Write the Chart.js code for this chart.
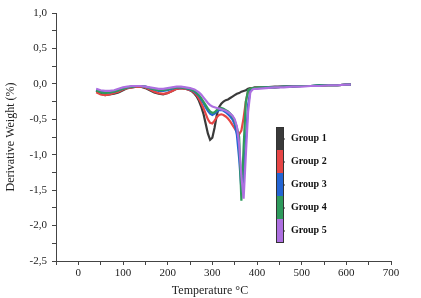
<!DOCTYPE html>
<html>
<head>
<meta charset="utf-8">
<script src="https://cdn.jsdelivr.net/npm/chart.js@4"></script>
<style>
  html, body { margin: 0; padding: 0; background: #fff; }
  #wrap { width: 421px; height: 298px; }
</style>
</head>
<body>
<div id="wrap"><canvas id="myChart" width="421" height="298"></canvas></div>
<script>
// data block
const temps = [40,50,60,70,80,90,100,110,120,130,140,150,160,170,180,190,200,210,220,230,240,
  250,255,260,265,270,275,280,285,290,295,300,305,310,315,320,325,330,335,340,345,350,355,360,365,370,375,380,385,390,395,400,
  420,440,460,480,500,520,540,560,580,600,610];

const groupNames = ["Group 1", "Group 2", "Group 3", "Group 4", "Group 5"];

const group1 = [-0.10,-0.14,-0.16,-0.15,-0.14,-0.12,-0.09,-0.06,-0.05,-0.04,-0.04,-0.06,-0.09,-0.12,-0.14,-0.15,-0.13,-0.10,-0.07,-0.06,-0.07,
  -0.09,-0.11,-0.14,-0.18,-0.24,-0.32,-0.42,-0.56,-0.70,-0.79,-0.76,-0.62,-0.44,-0.33,-0.28,-0.25,-0.23,-0.22,-0.20,-0.18,-0.16,-0.14,-0.13,-0.11,-0.10,-0.09,-0.07,-0.06,-0.06,-0.05,-0.05,
  -0.05,-0.04,-0.04,-0.03,-0.03,-0.03,-0.02,-0.02,-0.02,-0.01,-0.01];
const group2 = [-0.12,-0.15,-0.16,-0.15,-0.13,-0.11,-0.08,-0.06,-0.05,-0.04,-0.04,-0.05,-0.08,-0.11,-0.13,-0.14,-0.13,-0.10,-0.07,-0.06,-0.07,
  -0.09,-0.10,-0.13,-0.16,-0.21,-0.27,-0.34,-0.42,-0.50,-0.55,-0.56,-0.52,-0.47,-0.44,-0.43,-0.44,-0.46,-0.49,-0.53,-0.58,-0.63,-0.68,-0.71,-0.66,-0.48,-0.25,-0.10,-0.07,-0.06,-0.06,-0.05,
  -0.05,-0.05,-0.04,-0.04,-0.03,-0.03,-0.03,-0.02,-0.02,-0.01,-0.01];
const group3 = [-0.08,-0.11,-0.12,-0.12,-0.11,-0.09,-0.07,-0.05,-0.04,-0.03,-0.03,-0.04,-0.06,-0.08,-0.10,-0.10,-0.09,-0.07,-0.05,-0.05,-0.06,
  -0.08,-0.09,-0.11,-0.14,-0.17,-0.22,-0.27,-0.33,-0.38,-0.42,-0.44,-0.42,-0.39,-0.37,-0.37,-0.38,-0.40,-0.43,-0.46,-0.50,-0.57,-0.72,-1.05,-1.48,-1.35,-0.80,-0.30,-0.10,-0.07,-0.06,-0.06,
  -0.05,-0.05,-0.04,-0.04,-0.03,-0.03,-0.02,-0.02,-0.02,-0.01,-0.01];
const group4 = [-0.09,-0.12,-0.13,-0.12,-0.11,-0.09,-0.07,-0.05,-0.04,-0.03,-0.03,-0.04,-0.06,-0.08,-0.09,-0.09,-0.08,-0.06,-0.05,-0.05,-0.06,
  -0.07,-0.09,-0.10,-0.13,-0.16,-0.20,-0.25,-0.30,-0.35,-0.39,-0.41,-0.40,-0.37,-0.35,-0.34,-0.35,-0.37,-0.39,-0.42,-0.46,-0.52,-0.62,-0.75,-1.65,-0.90,-0.25,-0.09,-0.07,-0.06,-0.06,-0.05,
  -0.05,-0.05,-0.04,-0.04,-0.03,-0.03,-0.02,-0.02,-0.02,-0.01,-0.01];
const group5 = [-0.07,-0.09,-0.10,-0.10,-0.09,-0.07,-0.05,-0.04,-0.03,-0.03,-0.03,-0.04,-0.05,-0.06,-0.07,-0.07,-0.06,-0.05,-0.04,-0.04,-0.05,
  -0.06,-0.07,-0.08,-0.10,-0.12,-0.15,-0.19,-0.23,-0.27,-0.30,-0.32,-0.33,-0.34,-0.35,-0.36,-0.37,-0.38,-0.40,-0.42,-0.45,-0.50,-0.60,-0.85,-1.30,-1.62,-1.00,-0.40,-0.12,-0.08,-0.07,-0.07,
  -0.06,-0.05,-0.05,-0.04,-0.04,-0.03,-0.03,-0.02,-0.02,-0.01,-0.01];

const colors = ["#3a3a3a", "#e64545", "#2465d4", "#2e9a5c", "#ad6fe0"];
const series = [group1, group2, group3, group4, group5];

const serif = "'Liberation Serif', 'DejaVu Serif', serif";

// setup block
const data = {
  datasets: series.map((vals, i) => ({
    label: groupNames[i],
    data: temps.map((t, j) => ({ x: t, y: vals[j] })),
    borderColor: colors[i],
    borderWidth: 2.2,
    pointRadius: 0,
    tension: 0,
    fill: false,
    order: 5 - i, // group 5 on top
  })),
};

// colour bar legend, drawn next to the peaks
const barLegend = {
  id: "barLegend",
  afterDraw(chart) {
    const ctx = chart.ctx;
    const x = 276, w = 7, top = 127, h = 23;
    ctx.save();
    colors.forEach((c, i) => {
      ctx.fillStyle = c;
      ctx.fillRect(x, top + i * h, w, h);
    });
    ctx.strokeStyle = "#333";
    ctx.lineWidth = 1;
    ctx.strokeRect(x + 0.5, top + 0.5, w, h * colors.length);
    ctx.fillStyle = "#111";
    ctx.font = "bold 10px " + serif;
    ctx.textBaseline = "middle";
    groupNames.forEach((name, i) => {
      const cy = top + i * h + h / 2;
      ctx.beginPath();
      ctx.moveTo(x + w, cy + 0.5);
      ctx.lineTo(x + w + 2, cy + 0.5);
      ctx.stroke();
      ctx.fillText(name, 291, cy);
    });
    // x axis title sits a bit left of centre in the original
    ctx.fillStyle = "#222";
    ctx.font = "12px " + serif;
    ctx.textAlign = "center";
    ctx.textBaseline = "alphabetic";
    ctx.fillText("Temperature °C", 210, 294);
    ctx.restore();
  },
};

const fmt = (v) => v.toFixed(1).replace(".", ",");

// config block
const config = {
  type: "line",
  data: data,
  options: {
    responsive: false,
    animation: false,
    layout: { padding: { top: 13, right: 30, left: 0, bottom: 0 } },
    plugins: {
      legend: { display: false },
      tooltip: { enabled: false },
    },
    scales: {
      x: {
        type: "linear",
        min: -50,
        max: 700,
        afterFit(scale) { scale.height = 37; },
        border: { color: "#444", width: 1 },
        grid: { drawOnChartArea: false, tickLength: 4, color: "#444" },
        ticks: {
          stepSize: 50,
          autoSkip: false,
          maxRotation: 0,
          color: "#222",
          padding: 2,
          font: { family: serif, size: 11 },
          callback: (v) => (v % 100 === 0 ? String(v) : ""),
        },
      },
      y: {
        min: -2.5,
        max: 1.0,
        afterFit(scale) { scale.width = 56; },
        border: { color: "#444", width: 1 },
        grid: { drawOnChartArea: false, tickLength: 4, color: "#444" },
        ticks: {
          stepSize: 0.25,
          autoSkip: false,
          color: "#222",
          padding: 5,
          font: { family: serif, size: 11 },
          callback: (v) => (Math.abs(v * 2 - Math.round(v * 2)) < 1e-6 ? fmt(v) : ""),
        },
        title: {
          display: true,
          text: "Derivative Weight (%)",
          color: "#222",
          font: { family: serif, size: 12 },
          padding: { bottom: 0 },
        },
      },
    },
  },
  plugins: [barLegend],
};

// render init block
const myChart = new Chart(document.getElementById("myChart"), config);
</script>
</body>
</html>
